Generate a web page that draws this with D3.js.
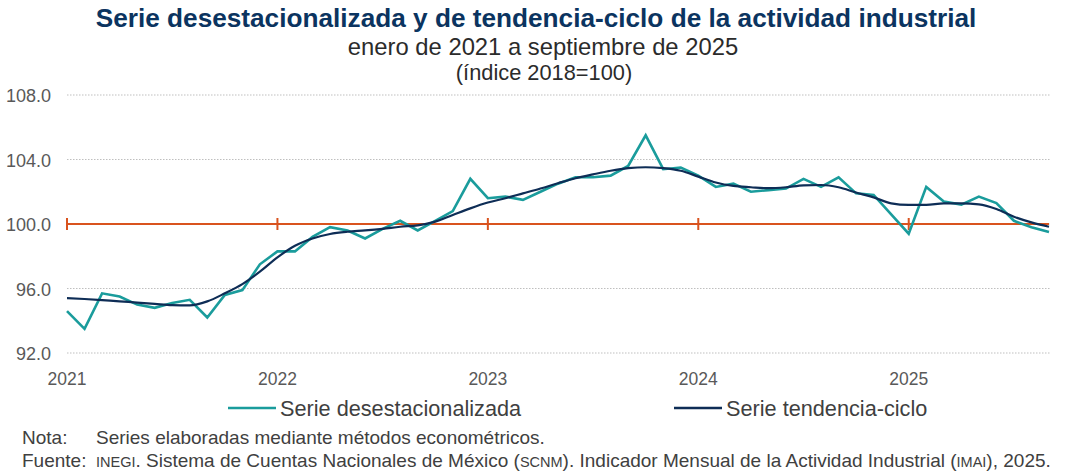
<!DOCTYPE html>
<html>
<head>
<meta charset="utf-8">
<script src="https://cdn.jsdelivr.net/npm/d3@7"></script>
<style>
  body { margin: 0; background: #fff; }
  svg { font-family: "Liberation Sans", Arial, sans-serif; }
  .grid line { stroke: #bfbfbf; stroke-dasharray: 1.5 1.5; stroke-width: 1; }
  .tick-label { fill: #595959; font-size: 17.5px; }
</style>
</head>
<body>
<svg id="chart" width="1068" height="472"></svg>
<script>
// months from enero 2021 to septiembre 2025
const years = [2021, 2022, 2023, 2024, 2025];
const yTicks = [92, 96, 100, 104, 108];

const desest = [
  94.6, 93.5, 95.7, 95.5, 95.0, 94.8, 95.1, 95.3, 94.2, 95.6, 95.9, 97.5,
  98.3, 98.3, 99.2, 99.8, 99.6, 99.1, 99.7, 100.2, 99.6, 100.2, 100.8, 102.8,
  101.6, 101.7, 101.5, 102.0, 102.5, 102.9, 102.9, 103.0, 103.6, 105.5, 103.4, 103.5,
  103.0, 102.3, 102.5, 102.0, 102.1, 102.2, 102.8, 102.3, 102.9, 101.9, 101.8, 100.6,
  99.4, 102.3, 101.4, 101.2, 101.7, 101.3, 100.2, 99.8, 99.5
];

const tendencia = [
  95.4, 95.35, 95.28, 95.2, 95.13, 95.05, 94.97, 94.95, 95.2, 95.7, 96.27, 97.04,
  97.93, 98.65, 99.1, 99.38, 99.52, 99.6, 99.7, 99.83, 99.92, 100.15, 100.56, 100.97,
  101.33, 101.6, 101.9, 102.2, 102.53, 102.84, 103.08, 103.3, 103.46, 103.52, 103.46, 103.3,
  102.94, 102.57, 102.36, 102.28, 102.22, 102.28, 102.4, 102.42, 102.28, 101.95, 101.65, 101.28,
  101.18, 101.18, 101.28, 101.28, 101.22, 100.93, 100.45, 100.1, 99.83
];

const svg = d3.select("#chart");
const W = +svg.attr("width");

const x = d3.scaleLinear().domain([0, 56]).range([67, 1049]);
const y = d3.scaleLinear().domain([92, 108]).range([353, 95]);

// titles
svg.append("text")
  .attr("x", W / 2 + 2).attr("y", 27)
  .attr("text-anchor", "middle")
  .style("font-size", "26.2px").style("font-weight", "bold").style("fill", "#0b3460")
  .text("Serie desestacionalizada y de tendencia-ciclo de la actividad industrial");
svg.append("text")
  .attr("x", W / 2 + 9).attr("y", 55)
  .attr("text-anchor", "middle")
  .style("font-size", "23.8px").style("fill", "#2b2b2b")
  .text("enero de 2021 a septiembre de 2025");
svg.append("text")
  .attr("x", W / 2 + 10).attr("y", 80)
  .attr("text-anchor", "middle")
  .style("font-size", "21.8px").style("fill", "#2b2b2b")
  .text("(índice 2018=100)");

// horizontal grid
svg.append("g").attr("class", "grid")
  .selectAll("line")
  .data(yTicks)
  .join("line")
  .attr("x1", x(0)).attr("x2", 1050)
  .attr("y1", d => y(d)).attr("y2", d => y(d));

// y labels
svg.append("g")
  .selectAll("text")
  .data(yTicks)
  .join("text")
  .attr("class", "tick-label")
  .style("font-size", "18px")
  .attr("x", 51).attr("y", d => y(d) + 1)
  .attr("dy", "0.36em")
  .attr("text-anchor", "end")
  .text(d => d.toFixed(1));

// x labels
svg.append("g")
  .selectAll("text")
  .data(years)
  .join("text")
  .attr("class", "tick-label")
  .attr("x", (d, i) => x(i * 12)).attr("y", 385)
  .attr("text-anchor", "middle")
  .text(d => d);

// base line at 100 with year ticks
const axisColor = "#d9531e";
svg.append("line")
  .attr("x1", x(0)).attr("x2", x(56))
  .attr("y1", y(100)).attr("y2", y(100))
  .attr("stroke", axisColor).attr("stroke-width", 2);
svg.append("g")
  .selectAll("line")
  .data(years)
  .join("line")
  .attr("x1", (d, i) => x(i * 12)).attr("x2", (d, i) => x(i * 12))
  .attr("y1", y(100) - 6).attr("y2", y(100) + 6)
  .attr("stroke", axisColor).attr("stroke-width", 2);

const teal = "#1a9c9c", navy = "#0e2d56";
const line = d3.line().x((d, i) => x(i)).y(d => y(d));
const smooth = d3.line().x((d, i) => x(i)).y(d => y(d)).curve(d3.curveMonotoneX);

svg.append("path")
  .datum(desest)
  .attr("d", line)
  .attr("fill", "none").attr("stroke", teal).attr("stroke-width", 2.6)
  .attr("stroke-linejoin", "miter");
svg.append("path")
  .datum(tendencia)
  .attr("d", smooth)
  .attr("fill", "none").attr("stroke", navy).attr("stroke-width", 2.2);

// legend
const legend = [
  { name: "Serie desestacionalizada", color: teal, x: 228 },
  { name: "Serie tendencia-ciclo", color: navy, x: 674 }
];
const lg = svg.append("g").selectAll("g").data(legend).join("g")
  .attr("transform", d => `translate(${d.x},408)`);
lg.append("line")
  .attr("x1", 0).attr("x2", 48)
  .attr("stroke", d => d.color).attr("stroke-width", 2.6);
lg.append("text")
  .attr("x", 52).attr("y", 8)
  .style("font-size", "21.7px").style("fill", "#404040")
  .text(d => d.name);

// notes
const noteStyle = t => t.style("font-size", "19px").style("fill", "#404040");
svg.append("text").attr("x", 22).attr("y", 444).call(noteStyle).text("Nota:");
svg.append("text").attr("x", 96).attr("y", 444).call(noteStyle)
  .text("Series elaboradas mediante métodos econométricos.");
svg.append("text").attr("x", 22).attr("y", 467).call(noteStyle).text("Fuente:");

const src = svg.append("text").attr("x", 96).attr("y", 467).call(noteStyle);
const parts = [
  ["INEGI", true], [". Sistema de Cuentas Nacionales de México (", false],
  ["SCNM", true], ["). Indicador Mensual de la Actividad Industrial (", false],
  ["IMAI", true], ["), 2025.", false]
];
parts.forEach(([t, small]) => {
  src.append("tspan").style("font-size", small ? "14.5px" : "19px").text(t);
});
</script>
</body>
</html>
